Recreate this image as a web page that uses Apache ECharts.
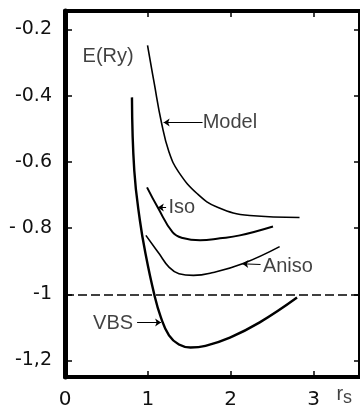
<!DOCTYPE html>
<html><head><meta charset="utf-8">
<script src="https://cdn.jsdelivr.net/npm/echarts@6/dist/echarts.min.js"></script>
<style>html,body{margin:0;padding:0;background:#fff}#c{width:360px;height:410px}</style>
</head><body><div id="c"></div>
<script>
// ---- data ----
const xTickValues = [0, 1, 2, 3];
const xTickLabels = ['0', '1', '2', '3'];
const yTickValues = [-1.2, -1, -0.8, -0.6, -0.4, -0.2];
const yTickLabels = ['-1,2', '-1', '- 0.8', '-0.6', '-0.4', '-0.2'];

const modelX = [0.996, 1.075, 1.164, 1.255, 1.37, 1.60, 1.84, 2.23, 2.83];
const modelY = [-0.248, -0.360, -0.481, -0.570, -0.630, -0.697, -0.737, -0.762, -0.768];

const isoX = [0.99, 1.12, 1.30, 1.42, 1.63, 1.87, 2.11, 2.51];
const isoY = [-0.677, -0.738, -0.813, -0.830, -0.837, -0.831, -0.822, -0.795];

const anisoX = [0.976, 1.135, 1.255, 1.375, 1.55, 1.79, 2.15, 2.59];
const anisoY = [-0.822, -0.877, -0.918, -0.938, -0.943, -0.934, -0.907, -0.856];

const vbsX = [0.808, 0.836, 0.904, 0.976, 1.075, 1.156, 1.255, 1.375, 1.515, 1.695, 1.99, 2.35, 2.80];
const vbsY = [-0.405, -0.626, -0.777, -0.883, -0.998, -1.069, -1.124, -1.152, -1.161, -1.156, -1.131, -1.085, -1.010];

const refLevel = -1;

const labelTexts = ['E(Ry)', 'Model', 'Iso', 'Aniso', 'VBS'];
const labelX = [0.52, 1.99, 1.41, 2.69, 0.58];
const labelY = [-0.282, -0.481, -0.738, -0.916, -1.088];

const arrowFromX = [1.66, 1.22, 2.36, 0.87];
const arrowFromY = [-0.481, -0.738, -0.910, -1.085];
const arrowToX = [1.19, 1.12, 2.14, 1.16];
const arrowToY = [-0.481, -0.738, -0.908, -1.085];

const axisNameX = 3.37, axisNameY = -1.315;

// ---- chart ----
const zip = (xs, ys) => xs.map((x, i) => [x, ys[i]]);
const chart = echarts.init(document.getElementById('c'), null, {renderer: 'canvas'});
const tickFont = 'DejaVu Sans';
const textFont = 'Liberation Sans';
const lineS = (w) => ({type: 'line', smooth: 0.45, symbol: 'none',
  lineStyle: {color: '#000', width: w}, silent: true, clip: false});

const yLabelFor = (v) => {
  let best = 0;
  yTickValues.forEach((t, i) => { if (Math.abs(t - v) < Math.abs(yTickValues[best] - v)) best = i; });
  return yTickLabels[best];
};

chart.setOption({
  animation: false,
  backgroundColor: '#fff',
  grid: {left: 65, top: 11, width: 297, height: 366, containLabel: false},
  xAxis: [
    {type: 'value', position: 'bottom', min: 0, max: 3.56, splitLine: {show: false},
     axisLine: {show: true, onZero: false, lineStyle: {color: '#000', width: 4}},
     axisTick: {show: true, inside: true, length: 6, customValues: [1, 2, 3], lineStyle: {color: '#000', width: 1.5}},
     axisLabel: {customValues: xTickValues, formatter: (v) => xTickLabels[xTickValues.indexOf(Math.round(v))] || '', margin: 13,
       fontFamily: tickFont, fontSize: 20, color: '#111'}},
    {type: 'value', position: 'top', min: 0, max: 3.56, splitLine: {show: false},
     axisLine: {show: true, onZero: false, lineStyle: {color: '#000', width: 4}},
     axisTick: {show: true, inside: true, length: 6, customValues: [1, 2, 3], lineStyle: {color: '#000', width: 1.5}},
     axisLabel: {show: false}}
  ],
  yAxis: [
    {type: 'value', position: 'left', min: -1.25, max: -0.144, splitLine: {show: false},
     axisLine: {show: true, onZero: false, lineStyle: {color: '#000', width: 5}},
     axisTick: {show: true, inside: true, length: 7, customValues: yTickValues, lineStyle: {color: '#000', width: 1.5}},
     axisLabel: {customValues: yTickValues, formatter: yLabelFor, margin: 13,
       fontFamily: tickFont, fontSize: 19, color: '#111'}},
    {type: 'value', position: 'right', min: -1.25, max: -0.144, splitLine: {show: false},
     axisLine: {show: true, onZero: false, lineStyle: {color: '#000', width: 4}},
     axisTick: {show: true, inside: true, length: 6, customValues: yTickValues, lineStyle: {color: '#000', width: 1.5}},
     axisLabel: {show: false}}
  ],
  series: [
    Object.assign(lineS(1.6), {name: 'Model', data: zip(modelX, modelY)}),
    Object.assign(lineS(2), {name: 'Iso', data: zip(isoX, isoY)}),
    Object.assign(lineS(1.6), {name: 'Aniso', data: zip(anisoX, anisoY)}),
    Object.assign(lineS(2.4), {name: 'VBS', data: zip(vbsX, vbsY),
      markLine: {silent: true, symbol: 'none', label: {show: false},
        lineStyle: {color: '#000', width: 1.5, type: [9, 4]},
        data: [{yAxis: refLevel}]}}),
    {type: 'line', name: 'arrows', data: [], silent: true,
     markLine: {silent: true, symbol: ['none', 'arrow'], symbolSize: 6, label: {show: false},
       lineStyle: {color: '#000', width: 1, type: 'solid'},
       data: arrowFromX.map((x, i) => [{coord: [x, arrowFromY[i]]}, {coord: [arrowToX[i], arrowToY[i]]}])}},
    {type: 'scatter', name: 'labels', silent: true, clip: false, symbolSize: 1, itemStyle: {color: 'rgba(0,0,0,0)'},
     data: labelTexts.map((t, i) => ({value: [labelX[i], labelY[i]], name: t})),
     label: {show: true, position: 'inside', formatter: (p) => p.name, fontFamily: textFont, fontSize: 20, color: '#111'}},
    {type: 'scatter', name: 'axisname', silent: true, clip: false, symbolSize: 1, itemStyle: {color: 'rgba(0,0,0,0)'},
     data: [[axisNameX, axisNameY]],
     label: {show: true, position: 'inside', formatter: '{r|r}{s|s}',
       rich: {r: {fontFamily: textFont, fontSize: 20, color: '#111', padding: [0, 0, 9, 0]},
              s: {fontFamily: textFont, fontSize: 18, color: '#111'}}}}
  ]
});
</script></body></html>
